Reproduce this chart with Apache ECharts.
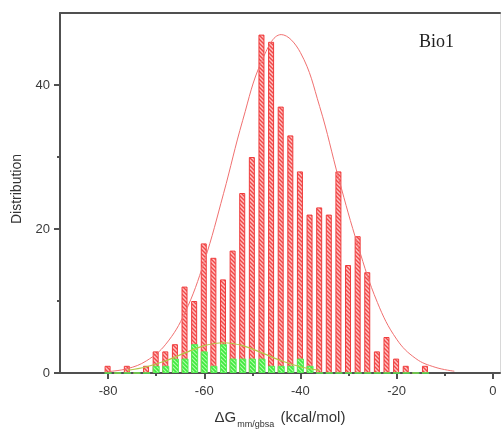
<!DOCTYPE html>
<html>
<head>
<meta charset="utf-8">
<script src="https://cdn.jsdelivr.net/npm/echarts@6/dist/echarts.min.js"></script>
<style>html,body{margin:0;padding:0;background:#fff;}#c{width:502px;height:430px;}</style>
</head>
<body>
<div id="c"></div>
<script>
// ---- data ----
const binCenters = [-80,-78,-76,-74,-72,-70,-68,-66,-64,-62,-60,-58,-56,-54,-52,-50,-48,-46,-44,-42,-40,-38,-36,-34,-32,-30,-28,-26,-24,-22,-20,-18,-16,-14];
const redCounts  = [1,0,1,0,1,3,3,4,12,10,18,16,13,17,25,30,47,46,37,33,28,22,23,22,28,15,19,14,3,5,2,1,0,1];
const greenCounts= [0,0,0,0,0,1,1,2,2,4,3,1,4,2,2,2,2,1,1,1,2,1,0,0,0,0,0,0,0,0,0,0,0,0];
const redFitX = [-80,-76,-72,-68,-64,-60,-56,-52,-48,-44,-40,-36,-32,-28,-24,-20,-16,-12,-8];
const redFitY = [0.2,0.6,1.7,4.0,8.4,15.5,24.9,35.1,43.4,47.0,44.5,37.0,26.9,17.6,9.8,4.7,2.0,0.8,0.25];
const greenFitX = [-76,-72,-68,-64,-60,-56,-52,-48,-44,-40,-36];
const greenFitY = [0.36,0.87,1.7,2.8,3.8,4.2,3.8,2.8,1.7,0.87,0.36];
const xMajorTicks = [-80,-60,-40,-20,0];
const xMinorTicks = [-70,-50,-30,-10];
const yMajorTicks = [0,20,40];
const yMinorTicks = [10,30];
const xTitle = {main:'ΔG', sub:'mm/gbsa', unit:' (kcal/mol)'};
const yTitle = 'Distribution';
const panelLabel = 'Bio1';

function hatch(bg, fg, w) {
  const c = document.createElement('canvas');
  c.width = 4; c.height = 4;
  const g = c.getContext('2d');
  g.fillStyle = bg; g.fillRect(0,0,4,4);
  g.strokeStyle = fg; g.lineWidth = w;
  g.beginPath();
  g.moveTo(0,0); g.lineTo(4,4);
  g.moveTo(-2,2); g.lineTo(2,6);
  g.moveTo(2,-2); g.lineTo(6,2);
  g.stroke();
  return {image: c, repeat: 'repeat'};
}

const pair = (xs, ys) => xs.map((x,i)=>[x, ys[i]]);

const chart = echarts.init(document.getElementById('c'), null, {renderer:'canvas'});
const axisColor = '#505050';
const labelColor = '#3a3a3a';
const baseX = {type:'value', min:-90, max:1.5, gridIndex:0};
chart.setOption({
  animation:false,
  grid:{left:60, top:13, width:440, height:360, outerBoundsMode:'none', containLabel:false},
  xAxis:[
    Object.assign({}, baseX, {
      position:'bottom',
      axisLine:{onZero:false, lineStyle:{color:axisColor, width:2}},
      axisTick:{show:true, length:6, inside:false, customValues:xMajorTicks, lineStyle:{color:axisColor, width:2}},
      axisLabel:{customValues:xMajorTicks, color:labelColor, fontSize:13, fontFamily:'Liberation Sans, Arial', margin:12},
      splitLine:{show:false},
      name: '{a|' + xTitle.main + '}{s|' + xTitle.sub + '}{a|' + xTitle.unit + '}',
      nameLocation:'middle', nameGap:32,
      nameTextStyle:{rich:{
        a:{fontSize:15, fontFamily:'Liberation Sans, Arial', color:'#333', verticalAlign:'bottom', lineHeight:20},
        s:{fontSize:9, fontFamily:'Liberation Sans, Arial', color:'#333', verticalAlign:'bottom', lineHeight:20, padding:[0,2,-4,1]}
      }}
    }),
    Object.assign({}, baseX, {
      position:'bottom',
      axisLine:{show:false, onZero:false},
      axisTick:{show:true, length:3, customValues:xMinorTicks, lineStyle:{color:axisColor, width:2}},
      axisLabel:{show:false},
      splitLine:{show:false}
    }),
    Object.assign({}, baseX, {
      position:'top',
      axisLine:{onZero:false, lineStyle:{color:axisColor, width:2}},
      axisTick:{show:false}, axisLabel:{show:false}, splitLine:{show:false}
    })
  ],
  yAxis:[
    {type:'value', min:0, max:50, position:'left',
      axisLine:{show:true, onZero:false, lineStyle:{color:axisColor, width:2}},
      axisTick:{show:true, length:6, customValues:yMajorTicks, lineStyle:{color:axisColor, width:2}},
      axisLabel:{customValues:yMajorTicks, color:labelColor, fontSize:13, fontFamily:'Liberation Sans, Arial', margin:10},
      splitLine:{show:false},
      name:yTitle, nameLocation:'middle', nameGap:35, nameRotate:90,
      nameTextStyle:{fontSize:14, fontFamily:'Liberation Sans, Arial', color:'#333', padding:[0,0,0,8]}
    },
    {type:'value', min:0, max:50, position:'left',
      axisLine:{show:false, onZero:false},
      axisTick:{show:true, length:3, customValues:yMinorTicks, lineStyle:{color:axisColor, width:2}},
      axisLabel:{show:false}, splitLine:{show:false}
    },
    {type:'value', min:0, max:50, position:'right',
      axisLine:{show:true, onZero:false, lineStyle:{color:'#d8d8d8', width:1}},
      axisTick:{show:false}, axisLabel:{show:false}, splitLine:{show:false}
    }
  ],
  graphic:[{
    type:'text', left:419, top:33,
    style:{text:panelLabel, font:'18px "Liberation Serif", "Times New Roman", serif', fill:'#222'}
  }],
  series:[
    {type:'bar', name:'red', data:pair(binCenters, redCounts), barWidth:6, barGap:'-100%',
      itemStyle:{color:hatch('#ffc4c4', '#f04848', 1.4), borderColor:'#f03c3c', borderWidth:1}, z:2},
    {type:'bar', name:'green', data:pair(binCenters, greenCounts), barWidth:7, barGap:'-100%',
      itemStyle:{color:hatch('#b0ffa8', '#3ee83e', 1.6), borderColor:'#55ee55', borderWidth:1}, z:3},
    {type:'line', data:pair(redFitX, redFitY), smooth:0.4, showSymbol:false,
      lineStyle:{color:'#f07070', width:1}, z:5},
    {type:'line', data:pair(greenFitX, greenFitY), smooth:0.4, showSymbol:false,
      lineStyle:{color:'#b4c848', width:1.2}, z:5}
  ]
});
</script>
</body>
</html>
